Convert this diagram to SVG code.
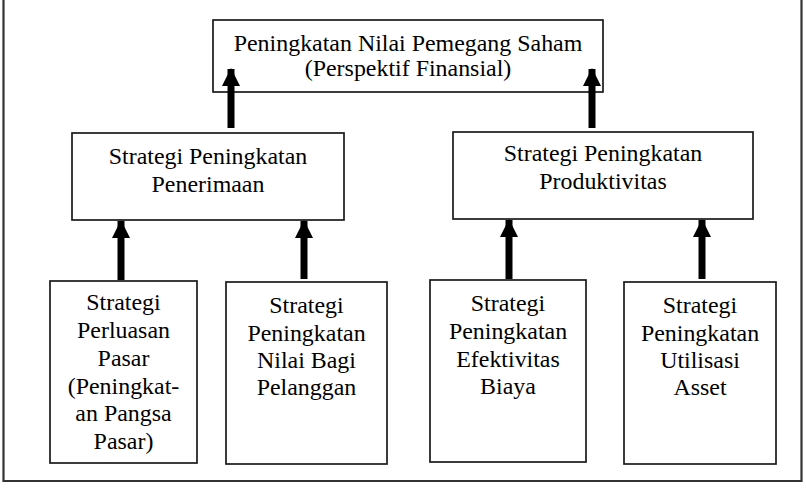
<svg xmlns="http://www.w3.org/2000/svg" width="806" height="488" viewBox="0 0 806 488">
<style>
.box{fill:#fff;stroke:#1a1a1a;stroke-width:1.7}
.frame{fill:none;stroke:#333;stroke-width:2.2}
.t{font-family:"Liberation Serif","Times New Roman",serif;font-size:23px;fill:#000;text-anchor:middle}
.arr{stroke:#000;stroke-width:7;fill:none;marker-end:url(#ah)}
</style>
<defs>
<marker id="ah" markerUnits="userSpaceOnUse" markerWidth="18" markerHeight="18" viewBox="0 0 18 18" refX="17" refY="9" orient="auto">
<path d="M0,0 L18,9 L0,18 z" fill="#000"/>
</marker>
</defs>
<rect width="806" height="488" fill="#fff"/>
<path class="frame" d="M3.5,0 V481 H801.5 V0"/>

<g id="top">
<rect class="box" x="213" y="20" width="390" height="72"/>
<text class="t" transform="translate(408,51) scale(1.04,1)"><tspan x="0" y="0">Peningkatan Nilai Pemegang Saham</tspan><tspan x="0" y="25">(Perspektif Finansial)</tspan></text>
</g>

<g id="mid-left">
<rect class="box" x="72" y="133" width="272" height="87"/>
<text class="t" transform="translate(208,164) scale(1.04,1)"><tspan x="0" y="0">Strategi Peningkatan</tspan><tspan x="0" y="28">Penerimaan</tspan></text>
</g>

<g id="mid-right">
<rect class="box" x="453" y="132" width="300" height="87"/>
<text class="t" transform="translate(603,161) scale(1.04,1)"><tspan x="0" y="0">Strategi Peningkatan</tspan><tspan x="0" y="28">Produktivitas</tspan></text>
</g>

<g id="b1">
<rect class="box" x="50" y="281" width="147" height="182"/>
<text class="t" transform="translate(123.5,310) scale(1.04,1)"><tspan x="0" y="0">Strategi</tspan><tspan x="0" y="28">Perluasan</tspan><tspan x="0" y="56">Pasar</tspan><tspan x="0" y="84">(Peningkat-</tspan><tspan x="0" y="111">an Pangsa</tspan><tspan x="0" y="139">Pasar)</tspan></text>
</g>

<g id="b2">
<rect class="box" x="226" y="282" width="161" height="182"/>
<text class="t" transform="translate(306.5,313) scale(1.04,1)"><tspan x="0" y="0">Strategi</tspan><tspan x="0" y="28">Peningkatan</tspan><tspan x="0" y="55">Nilai Bagi</tspan><tspan x="0" y="82">Pelanggan</tspan></text>
</g>

<g id="b3">
<rect class="box" x="430" y="280" width="156" height="182"/>
<text class="t" transform="translate(508,311) scale(1.04,1)"><tspan x="0" y="0">Strategi</tspan><tspan x="0" y="28">Peningkatan</tspan><tspan x="0" y="56">Efektivitas</tspan><tspan x="0" y="83">Biaya</tspan></text>
</g>

<g id="b4">
<rect class="box" x="624" y="282" width="152" height="182"/>
<text class="t" transform="translate(700,313) scale(1.04,1)"><tspan x="0" y="0">Strategi</tspan><tspan x="0" y="28">Peningkatan</tspan><tspan x="0" y="55">Utilisasi</tspan><tspan x="0" y="82">Asset</tspan></text>
</g>

<g id="connectors">
<line class="arr" x1="231" y1="128" x2="231" y2="69"/>
<line class="arr" x1="592" y1="128" x2="592" y2="69"/>
<line class="arr" x1="121" y1="280" x2="121" y2="221"/>
<line class="arr" x1="304" y1="279" x2="304" y2="221"/>
<line class="arr" x1="509" y1="279" x2="509" y2="220"/>
<line class="arr" x1="702" y1="279" x2="702" y2="220"/>
</g>
</svg>
